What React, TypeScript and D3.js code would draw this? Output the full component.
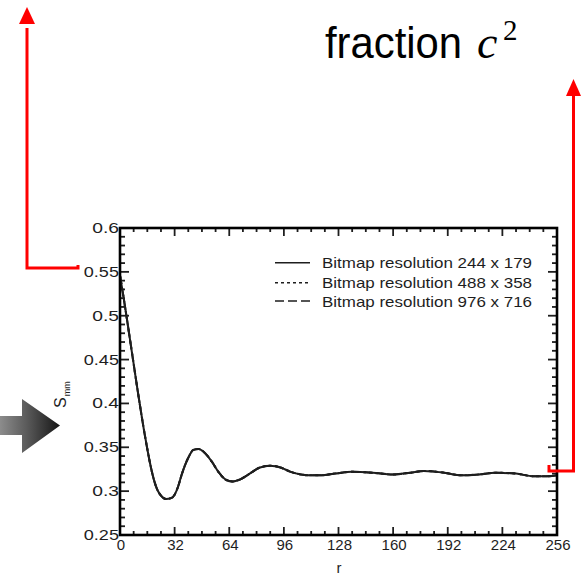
import * as d3 from "d3";
import { useEffect, useRef } from "react";

// r (pixels) and S_mm
const rValues = [0, 2, 4, 6, 8, 10, 12, 14, 16, 18, 20, 22, 24, 27, 30, 32, 34, 36, 40, 43, 46, 50, 54, 58, 62, 66, 70, 76, 82, 88, 94, 100, 106, 112, 118, 126, 136, 148, 160, 170, 178, 190, 200, 210, 220, 232, 242, 250, 256];
const res244 = [0.546, 0.522, 0.497, 0.471, 0.445, 0.419, 0.394, 0.37, 0.348, 0.328, 0.312, 0.301, 0.295, 0.291, 0.292, 0.296, 0.305, 0.318, 0.338, 0.347, 0.348, 0.343, 0.333, 0.321, 0.313, 0.311, 0.313, 0.32, 0.327, 0.329, 0.327, 0.322, 0.319, 0.318, 0.318, 0.32, 0.322, 0.321, 0.319, 0.321, 0.323, 0.321, 0.318, 0.319, 0.321, 0.32, 0.317, 0.317, 0.318];
const res488 = [0.546, 0.522, 0.497, 0.471, 0.445, 0.419, 0.394, 0.37, 0.348, 0.328, 0.312, 0.301, 0.295, 0.291, 0.292, 0.296, 0.305, 0.318, 0.338, 0.347, 0.348, 0.343, 0.333, 0.321, 0.313, 0.311, 0.313, 0.32, 0.327, 0.329, 0.327, 0.322, 0.319, 0.318, 0.318, 0.32, 0.322, 0.321, 0.319, 0.321, 0.323, 0.321, 0.318, 0.319, 0.321, 0.32, 0.317, 0.317, 0.318];
const res976 = [0.546, 0.522, 0.497, 0.471, 0.445, 0.419, 0.394, 0.37, 0.348, 0.328, 0.312, 0.301, 0.295, 0.291, 0.292, 0.296, 0.305, 0.318, 0.338, 0.347, 0.348, 0.343, 0.333, 0.321, 0.313, 0.311, 0.313, 0.32, 0.327, 0.329, 0.327, 0.322, 0.319, 0.318, 0.318, 0.32, 0.322, 0.321, 0.319, 0.321, 0.323, 0.321, 0.318, 0.319, 0.321, 0.32, 0.317, 0.317, 0.318];

const legendLabels = ["Bitmap resolution 244 x 179", "Bitmap resolution 488 x 358", "Bitmap resolution 976 x 716"];
const xTicks = [0, 32, 64, 96, 128, 160, 192, 224, 256];
const yTicks = [0.25, 0.3, 0.35, 0.4, 0.45, 0.5, 0.55, 0.6];

export default function App() {
  const svgRef = useRef(null);

  useEffect(() => {
    const svg = d3.select(svgRef.current);
    svg.selectAll("*").remove();

    const font = "'Liberation Sans', Arial, sans-serif";
    const ink = "#1e1e1e";
    const left = 120, right = 557, top = 228, bottom = 535;

    const x = d3.scaleLinear().domain([0, 256]).range([left, right]);
    const y = d3.scaleLinear().domain([0.25, 0.6]).range([bottom, top]);

    // gray arrow
    const defs = svg.append("defs");
    const grad = defs.append("linearGradient").attr("id", "arrowGrad").attr("x1", "0").attr("x2", "1").attr("y1", "0").attr("y2", "0");
    grad.append("stop").attr("offset", "0%").attr("stop-color", "#8c8c8c");
    grad.append("stop").attr("offset", "45%").attr("stop-color", "#5a5a5a");
    grad.append("stop").attr("offset", "100%").attr("stop-color", "#151515");
    svg.append("path")
      .attr("d", "M0,416 L22,416 L22,399 L60,425.5 L22,453 L22,435 L0,435 Z")
      .attr("fill", "url(#arrowGrad)");

    // minor + major ticks, all pointing inward
    const minorX = d3.range(0, 257, 8);
    const minorY = d3.range(0.25, 0.6001, 0.01);
    const g = svg.append("g").attr("stroke", ink).attr("stroke-width", 1.8);
    minorX.forEach((v) => {
      const len = v % 32 === 0 ? 8 : 4;
      g.append("line").attr("x1", x(v)).attr("x2", x(v)).attr("y1", bottom).attr("y2", bottom - len);
      g.append("line").attr("x1", x(v)).attr("x2", x(v)).attr("y1", top).attr("y2", top + len);
    });
    minorY.forEach((v) => {
      const major = Math.abs(Math.round(v * 100) % 5) === 0;
      const len = major ? 9 : 5;
      g.append("line").attr("x1", left).attr("x2", left + len).attr("y1", y(v)).attr("y2", y(v));
      g.append("line").attr("x1", right).attr("x2", right - len).attr("y1", y(v)).attr("y2", y(v));
    });

    // tick labels
    svg.append("g").selectAll("text").data(xTicks).enter().append("text")
      .attr("x", (d) => x(d) + 1)
      .attr("y", 550)
      .attr("text-anchor", "middle")
      .attr("font-family", font)
      .attr("font-size", 15)
      .attr("fill", ink)
      .text((d) => d);

    svg.append("g").selectAll("text").data(yTicks).enter().append("text")
      .attr("x", 119)
      .attr("y", (d) => y(d) + 5)
      .attr("text-anchor", "end")
      .attr("font-family", font)
      .attr("font-size", 15)
      .attr("fill", ink)
      .attr("textLength", (d) => {
        const s = String(d);
        return (s.length - 1) * 8.4 + 10;
      })
      .attr("lengthAdjust", "spacingAndGlyphs")
      .text((d) => String(d));

    // axis titles
    svg.append("text")
      .attr("x", 339)
      .attr("y", 573)
      .attr("text-anchor", "middle")
      .attr("font-family", font)
      .attr("font-size", 15)
      .attr("fill", ink)
      .text("r");

    const yt = svg.append("text")
      .attr("transform", "translate(66,408) rotate(-90)")
      .attr("font-family", font)
      .attr("font-size", 16)
      .attr("fill", ink);
    yt.append("tspan").text("S");
    yt.append("tspan").attr("font-size", 9).attr("dy", 4).attr("dx", 1).text("mm");

    // curves
    const series = [
      { values: res244, dash: null },
      { values: res488, dash: "3,3" },
      { values: res976, dash: "9,4" },
    ];
    const line = d3.line<number>()
      .x((_, i) => x(rValues[i]))
      .y((d) => y(d))
      .curve(d3.curveMonotoneX);
    series.forEach((s) => {
      svg.append("path")
        .attr("d", line(s.values))
        .attr("fill", "none")
        .attr("stroke", ink)
        .attr("stroke-width", 2)
        .attr("stroke-dasharray", s.dash);
    });

    // frame
    svg.append("rect")
      .attr("x", left).attr("y", top)
      .attr("width", right - left).attr("height", bottom - top)
      .attr("fill", "none").attr("stroke", "#000").attr("stroke-width", 2.6);

    // legend
    const rows = [262.7, 282.7, 301];
    series.forEach((s, i) => {
      svg.append("line")
        .attr("x1", 275).attr("x2", 310)
        .attr("y1", rows[i]).attr("y2", rows[i])
        .attr("stroke", ink).attr("stroke-width", 1.6)
        .attr("stroke-dasharray", s.dash);
      svg.append("text")
        .attr("x", 322).attr("y", rows[i] + 5.5)
        .attr("font-family", font).attr("font-size", 15)
        .attr("fill", ink)
        .attr("textLength", 210).attr("lengthAdjust", "spacingAndGlyphs")
        .text(legendLabels[i]);
    });

    // red callout lines
    const red = "#ff0000";
    svg.append("path")
      .attr("d", "M27,28 L27,268 L78,268 L78,265")
      .attr("fill", "none").attr("stroke", red).attr("stroke-width", 3);
    svg.append("path").attr("d", "M27,7 L19,24 L35,24 Z").attr("fill", red);
    svg.append("path")
      .attr("d", "M573.5,92 L573.5,471 L549,471 L549,465")
      .attr("fill", "none").attr("stroke", red).attr("stroke-width", 3);
    svg.append("path").attr("d", "M573.5,79 L566,96 L581,96 Z").attr("fill", red);

    // heading text
    svg.append("text")
      .attr("x", 325).attr("y", 58)
      .attr("font-family", font).attr("font-size", 45)
      .attr("fill", "#000")
      .attr("textLength", 137).attr("lengthAdjust", "spacingAndGlyphs")
      .text("fraction");
    svg.append("text")
      .attr("x", 477).attr("y", 58)
      .attr("font-family", "'Liberation Serif', serif").attr("font-style", "italic")
      .attr("font-size", 46).attr("fill", "#000")
      .text("c");
    svg.append("text")
      .attr("x", 503).attr("y", 40)
      .attr("font-family", "'Liberation Serif', serif")
      .attr("font-size", 29).attr("fill", "#000")
      .text("2");
  }, []);

  return (
    <div>
      <svg ref={svgRef} width={587} height={577} style={{ position: "absolute", left: 0, top: 0, background: "#fff" }}></svg>
    </div>
  );
}
